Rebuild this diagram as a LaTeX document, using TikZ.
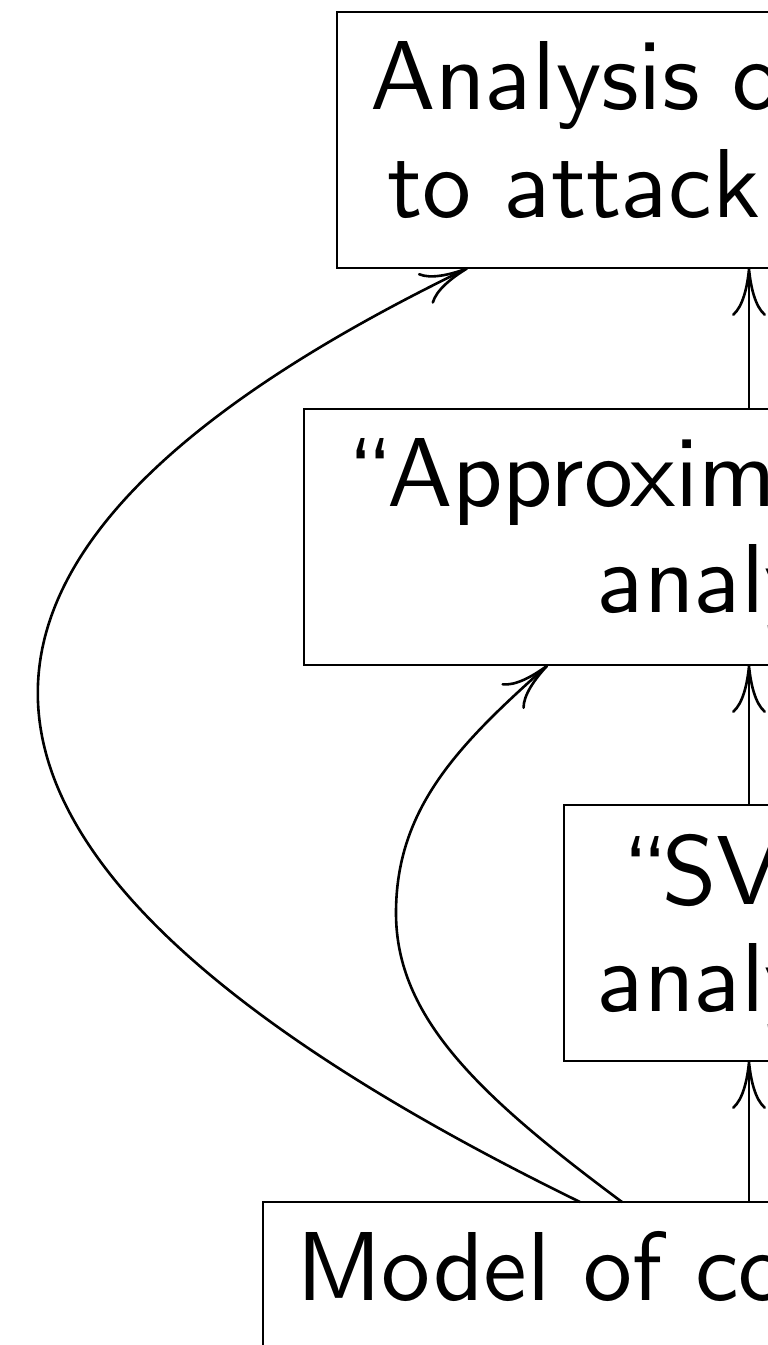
\documentclass[tikz,border=0pt]{standalone}
\usetikzlibrary{arrows.meta}
% Computer Modern Sans at its 10pt design size, scaled up
\font\boxfont=cmss10 at 98pt
\tikzset{
  box/.style={draw, rectangle, line width=2.9pt, inner sep=0pt, outer sep=0pt,
    anchor=north west, minimum width=800pt, minimum height=256pt},
  lbl/.style={anchor=base west, inner sep=0pt, outer sep=0pt, font=\boxfont},
  link/.style={line width=2.6pt, -{To[length=48pt,width=34pt]}}
}
\begin{document}
\begin{tikzpicture}[x=1pt,y=1pt]
\useasboundingbox (0,0) rectangle (768,1345);
\clip (0,0) rectangle (768,1345);

% stacked boxes
\node[box] (b1) at (337,1333) {};
\node[box] (b2) at (304,936) {};
\node[box] (b3) at (564,540) {};
\node[box, minimum height=300pt] (b4) at (263,143) {};

% box labels
\node[lbl] (t1a) at (370,1235) {Analysis o};
\node[lbl] (t1b) at (387,1127) {to attack};
\node[lbl] (t2a) at (338,838) {``Approxim};
\node[lbl] (t2b) at (597,732) {analy};
\node[lbl] (t3a) at (613,440) {``SV};
\node[lbl] (t3b) at (597,333) {analy};
\node[lbl] (t4) at (296,45) {Model of co};

% vertical spine of arrows
\coordinate (spine) at (749,0);
\draw[link] (b4.north -| spine) -- (b3.south -| spine);
\draw[link] (b3.north -| spine) -- (b2.south -| spine);
\draw[link] (b2.north -| spine) -- (b1.south -| spine);

% curved bypass arrows on the left
\draw[link] ([xshift=317pt]b4.north west)
  .. controls (-150,500) and (-97,803) .. ([xshift=131pt]b1.south west);
\coordinate (innerturn) at (396,432);
\draw[link] ([xshift=359pt]b4.north west)
  .. controls (478,250) and (396,328) .. (innerturn)
  .. controls (396,536) and (457.4,599.4) .. ([xshift=244pt]b2.south west);
\end{tikzpicture}
\end{document}
